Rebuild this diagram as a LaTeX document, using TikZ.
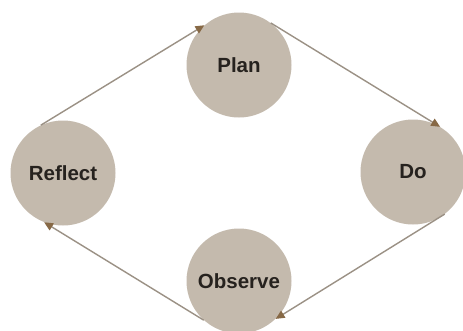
\documentclass[tikz,border=0pt]{standalone}
\usepackage{fontspec}
\setmainfont{Liberation Sans}
\usetikzlibrary{arrows.meta}
\definecolor{stepfill}{RGB}{196,186,173}
\definecolor{linkcol}{RGB}{155,145,133}
\definecolor{tipcol}{RGB}{135,105,70}
\definecolor{txtcol}{RGB}{38,34,30}
\begin{document}
\begin{tikzpicture}[x=1pt,y=-1pt,
  stage/.style={circle, fill=stepfill, minimum size=105pt, inner sep=0pt,
    font=\fontsize{20.5}{23}\selectfont\bfseries, text=txtcol},
  link/.style={draw=linkcol, line width=1.4pt,
    -{Triangle[length=9pt,width=8pt,color=tipcol]}}]
\useasboundingbox (0,0) rectangle (463,330);
\clip (0,0) rectangle (463,330);
\fill[white] (0,0) rectangle (463,330);
\node[stage] (plan) at (239,65) {Plan};
\node[stage] (reflect) at (63,173) {Reflect};
\node[stage] (do) at (413,172) {Do};
\node[stage] (observe) at (239,281) {Observe};
\draw[link] (reflect.115) -- (plan.131);
\draw[link] (plan.53) -- (do.59);
\draw[link] (do.-53) -- (observe.-46);
\draw[link] (observe.-132) -- (reflect.-111);
\end{tikzpicture}
\end{document}
